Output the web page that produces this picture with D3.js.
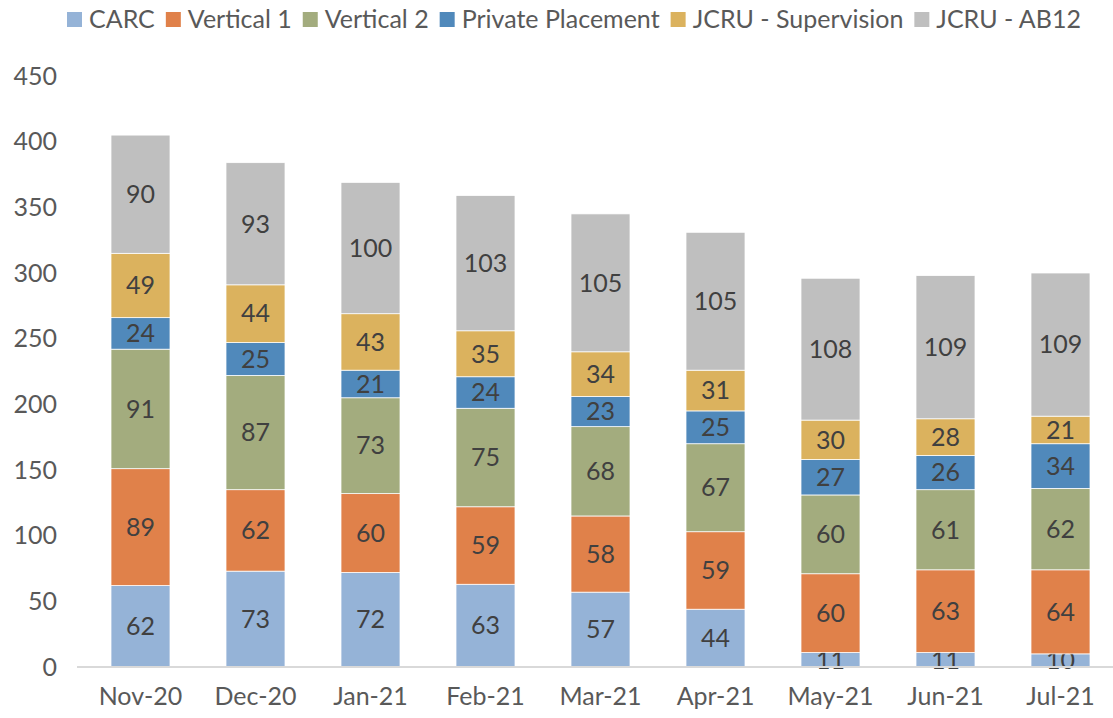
<!DOCTYPE html>
<html>
<head>
<meta charset="utf-8">
<script src="https://cdn.jsdelivr.net/npm/d3@7"></script>
<style>
  body { margin: 0; background: #fff; }
  svg { font-family: Lato, "Open Sans", sans-serif; }
</style>
</head>
<body>
<div id="chart"></div>
<script>
var months = ["Nov-20", "Dec-20", "Jan-21", "Feb-21", "Mar-21", "Apr-21", "May-21", "Jun-21", "Jul-21"];
var seriesNames = ["CARC", "Vertical 1", "Vertical 2", "Private Placement", "JCRU - Supervision", "JCRU - AB12"];
var carc = [62, 73, 72, 63, 57, 44, 11, 11, 10];
var vertical1 = [89, 62, 60, 59, 58, 59, 60, 63, 64];
var vertical2 = [91, 87, 73, 75, 68, 67, 60, 61, 62];
var privatePlacement = [24, 25, 21, 24, 23, 25, 27, 26, 34];
var jcruSupervision = [49, 44, 43, 35, 34, 31, 30, 28, 21];
var jcruAB12 = [90, 93, 100, 103, 105, 105, 108, 109, 109];
var yTicks = [0, 50, 100, 150, 200, 250, 300, 350, 400, 450];

var colors = ["#95b3d7", "#e0814a", "#a3ac7e", "#5089bb", "#dbb25e", "#bfbfbf"];

var svgWidth = 1113;
var svgHeight = 718;
var margin = { top: 76, right: 0, bottom: 51, left: 77 };
var width = svgWidth - margin.left - margin.right;
var height = svgHeight - margin.top - margin.bottom;
var fontSize = 25;

var svg = d3.select("#chart")
  .append("svg")
  .attr("width", svgWidth)
  .attr("height", svgHeight);

var chartGroup = svg.append("g")
  .attr("transform", `translate(${margin.left}, ${margin.top})`);

// build rows for stacking
var allSeries = [carc, vertical1, vertical2, privatePlacement, jcruSupervision, jcruAB12];
var rows = months.map(function (m, i) {
  var row = { month: m };
  seriesNames.forEach(function (s, j) { row[s] = allSeries[j][i]; });
  return row;
});
var stacked = d3.stack().keys(seriesNames)(rows);

// bands start a little right of the baseline start
var xScale = d3.scaleBand()
  .domain(months)
  .range([6, 1041])
  .paddingInner(0.487)
  .paddingOuter(0.2435);

var yScale = d3.scaleLinear()
  .domain([0, 450])
  .range([height, 0]);

// y axis labels (no line, no ticks)
var leftAxis = d3.axisLeft(yScale).tickValues(yTicks).tickSize(0).tickPadding(20);
var yAxis = chartGroup.append("g").call(leftAxis);
yAxis.select(".domain").remove();
yAxis.selectAll("text")
  .attr("font-size", fontSize)
  .attr("fill", "#595959")
  .attr("font-family", "Lato, 'Open Sans', sans-serif");

// stacked bars
var layers = chartGroup.selectAll(".layer")
  .data(stacked)
  .enter()
  .append("g")
  .attr("fill", (d, i) => colors[i]);

layers.selectAll("rect")
  .data(d => d)
  .enter()
  .append("rect")
  .attr("x", d => xScale(d.data.month))
  .attr("y", d => yScale(d[1]))
  .attr("width", xScale.bandwidth())
  .attr("height", d => yScale(d[0]) - yScale(d[1]))
  .attr("stroke", "#ffffff")
  .attr("stroke-width", 0.75);

// x axis baseline + labels
var bottomAxis = d3.axisBottom(xScale).tickSize(0).tickPadding(20);
var xAxis = chartGroup.append("g")
  .attr("transform", `translate(0, ${height})`)
  .call(bottomAxis);
xAxis.select(".domain").remove();
xAxis.selectAll("text")
  .attr("font-size", fontSize)
  .attr("fill", "#595959")
  .attr("font-family", "Lato, 'Open Sans', sans-serif");

chartGroup.append("line")
  .attr("x1", 0)
  .attr("x2", width)
  .attr("y1", height)
  .attr("y2", height)
  .attr("stroke", "#d9d9d9")
  .attr("stroke-width", 2);

// data labels
layers.selectAll(".val")
  .data(d => d)
  .enter()
  .append("text")
  .attr("x", d => xScale(d.data.month) + xScale.bandwidth() / 2)
  .attr("y", d => (yScale(d[0]) + yScale(d[1])) / 2)
  .attr("dy", "0.35em")
  .attr("text-anchor", "middle")
  .attr("font-size", fontSize)
  .attr("fill", "#404040")
  .text(d => d[1] - d[0]);

// legend
var legend = svg.append("g").attr("transform", "translate(67, 0)");
var lx = 0;
seriesNames.forEach(function (name, i) {
  var item = legend.append("g").attr("transform", `translate(${lx}, 0)`);
  item.append("rect")
    .attr("x", 0)
    .attr("y", 12)
    .attr("width", 15)
    .attr("height", 15)
    .attr("fill", colors[i]);
  var t = item.append("text")
    .attr("x", 22)
    .attr("y", 28)
    .attr("font-size", fontSize)
    .attr("fill", "#595959")
    .text(name);
  lx += 22 + t.node().getComputedTextLength() + 11;
});
</script>
</body>
</html>
